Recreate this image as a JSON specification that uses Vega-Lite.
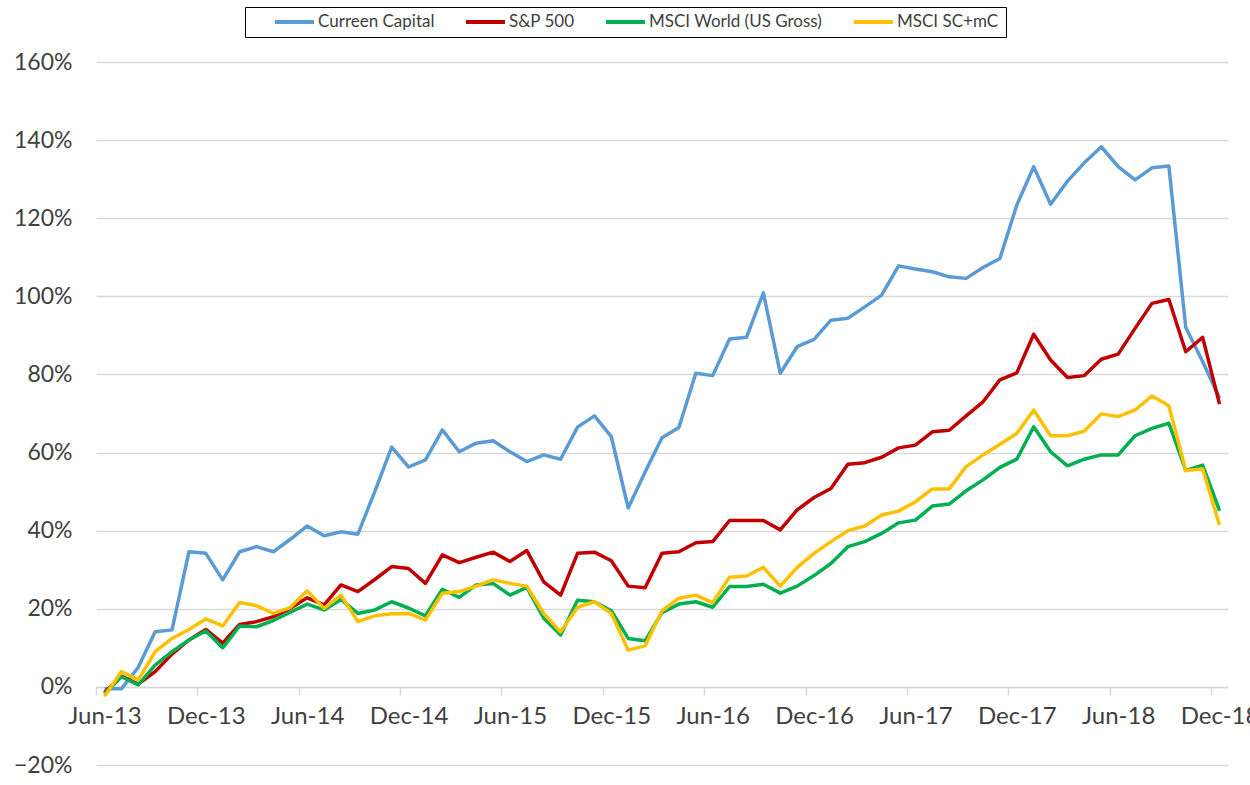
{
  "$schema": "https://vega.github.io/schema/vega-lite/v6.json",
  "width": 1132,
  "height": 703,
  "autosize": {"type": "none"},
  "padding": {"left": 96, "top": 62, "right": 22, "bottom": 20},
  "background": "white",
  "config": {
    "view": {"stroke": null},
    "font": "Lato",
    "axis": {"labelFont": "Lato", "labelColor": "#404040"},
    "legend": {"labelFont": "Lato"}
  },
  "data": {
    "values": [
      {"month": "Jun-13", "Curreen Capital": -0.005, "S&P 500": -0.015, "MSCI World (US Gross)": -0.018, "MSCI SC+mC": -0.024},
      {"month": "Jul-13", "Curreen Capital": -0.005, "S&P 500": 0.028, "MSCI World (US Gross)": 0.026, "MSCI SC+mC": 0.039},
      {"month": "Aug-13", "Curreen Capital": 0.05, "S&P 500": 0.007, "MSCI World (US Gross)": 0.005, "MSCI SC+mC": 0.018},
      {"month": "Sep-13", "Curreen Capital": 0.141, "S&P 500": 0.039, "MSCI World (US Gross)": 0.056, "MSCI SC+mC": 0.09},
      {"month": "Oct-13", "Curreen Capital": 0.146, "S&P 500": 0.084, "MSCI World (US Gross)": 0.09, "MSCI SC+mC": 0.124},
      {"month": "Nov-13", "Curreen Capital": 0.346, "S&P 500": 0.12, "MSCI World (US Gross)": 0.12, "MSCI SC+mC": 0.147},
      {"month": "Dec-13", "Curreen Capital": 0.342, "S&P 500": 0.147, "MSCI World (US Gross)": 0.143, "MSCI SC+mC": 0.174},
      {"month": "Jan-14", "Curreen Capital": 0.274, "S&P 500": 0.112, "MSCI World (US Gross)": 0.1, "MSCI SC+mC": 0.156},
      {"month": "Feb-14", "Curreen Capital": 0.346, "S&P 500": 0.16, "MSCI World (US Gross)": 0.156, "MSCI SC+mC": 0.216},
      {"month": "Mar-14", "Curreen Capital": 0.359, "S&P 500": 0.167, "MSCI World (US Gross)": 0.154, "MSCI SC+mC": 0.208},
      {"month": "Apr-14", "Curreen Capital": 0.346, "S&P 500": 0.18, "MSCI World (US Gross)": 0.17, "MSCI SC+mC": 0.188},
      {"month": "May-14", "Curreen Capital": 0.378, "S&P 500": 0.201, "MSCI World (US Gross)": 0.191, "MSCI SC+mC": 0.203},
      {"month": "Jun-14", "Curreen Capital": 0.412, "S&P 500": 0.228, "MSCI World (US Gross)": 0.212, "MSCI SC+mC": 0.246},
      {"month": "Jul-14", "Curreen Capital": 0.387, "S&P 500": 0.21, "MSCI World (US Gross)": 0.197, "MSCI SC+mC": 0.201},
      {"month": "Aug-14", "Curreen Capital": 0.397, "S&P 500": 0.261, "MSCI World (US Gross)": 0.224, "MSCI SC+mC": 0.235},
      {"month": "Sep-14", "Curreen Capital": 0.391, "S&P 500": 0.244, "MSCI World (US Gross)": 0.188, "MSCI SC+mC": 0.167},
      {"month": "Oct-14", "Curreen Capital": 0.5, "S&P 500": 0.275, "MSCI World (US Gross)": 0.197, "MSCI SC+mC": 0.182},
      {"month": "Nov-14", "Curreen Capital": 0.614, "S&P 500": 0.308, "MSCI World (US Gross)": 0.218, "MSCI SC+mC": 0.187},
      {"month": "Dec-14", "Curreen Capital": 0.563, "S&P 500": 0.303, "MSCI World (US Gross)": 0.202, "MSCI SC+mC": 0.188},
      {"month": "Jan-15", "Curreen Capital": 0.581, "S&P 500": 0.265, "MSCI World (US Gross)": 0.182, "MSCI SC+mC": 0.171},
      {"month": "Feb-15", "Curreen Capital": 0.658, "S&P 500": 0.338, "MSCI World (US Gross)": 0.25, "MSCI SC+mC": 0.24},
      {"month": "Mar-15", "Curreen Capital": 0.602, "S&P 500": 0.318, "MSCI World (US Gross)": 0.229, "MSCI SC+mC": 0.244},
      {"month": "Apr-15", "Curreen Capital": 0.624, "S&P 500": 0.332, "MSCI World (US Gross)": 0.261, "MSCI SC+mC": 0.258},
      {"month": "May-15", "Curreen Capital": 0.63, "S&P 500": 0.345, "MSCI World (US Gross)": 0.265, "MSCI SC+mC": 0.274},
      {"month": "Jun-15", "Curreen Capital": 0.602, "S&P 500": 0.321, "MSCI World (US Gross)": 0.235, "MSCI SC+mC": 0.265},
      {"month": "Jul-15", "Curreen Capital": 0.577, "S&P 500": 0.349, "MSCI World (US Gross)": 0.255, "MSCI SC+mC": 0.258},
      {"month": "Aug-15", "Curreen Capital": 0.594, "S&P 500": 0.269, "MSCI World (US Gross)": 0.176, "MSCI SC+mC": 0.188},
      {"month": "Sep-15", "Curreen Capital": 0.583, "S&P 500": 0.235, "MSCI World (US Gross)": 0.133, "MSCI SC+mC": 0.141},
      {"month": "Oct-15", "Curreen Capital": 0.665, "S&P 500": 0.342, "MSCI World (US Gross)": 0.222, "MSCI SC+mC": 0.204},
      {"month": "Nov-15", "Curreen Capital": 0.694, "S&P 500": 0.345, "MSCI World (US Gross)": 0.218, "MSCI SC+mC": 0.218},
      {"month": "Dec-15", "Curreen Capital": 0.641, "S&P 500": 0.323, "MSCI World (US Gross)": 0.195, "MSCI SC+mC": 0.188},
      {"month": "Jan-16", "Curreen Capital": 0.458, "S&P 500": 0.258, "MSCI World (US Gross)": 0.124, "MSCI SC+mC": 0.094},
      {"month": "Feb-16", "Curreen Capital": 0.55, "S&P 500": 0.254, "MSCI World (US Gross)": 0.118, "MSCI SC+mC": 0.105},
      {"month": "Mar-16", "Curreen Capital": 0.638, "S&P 500": 0.342, "MSCI World (US Gross)": 0.19, "MSCI SC+mC": 0.195},
      {"month": "Apr-16", "Curreen Capital": 0.664, "S&P 500": 0.346, "MSCI World (US Gross)": 0.212, "MSCI SC+mC": 0.227},
      {"month": "May-16", "Curreen Capital": 0.803, "S&P 500": 0.369, "MSCI World (US Gross)": 0.218, "MSCI SC+mC": 0.235},
      {"month": "Jun-16", "Curreen Capital": 0.797, "S&P 500": 0.372, "MSCI World (US Gross)": 0.204, "MSCI SC+mC": 0.216},
      {"month": "Jul-16", "Curreen Capital": 0.891, "S&P 500": 0.426, "MSCI World (US Gross)": 0.257, "MSCI SC+mC": 0.281},
      {"month": "Aug-16", "Curreen Capital": 0.895, "S&P 500": 0.426, "MSCI World (US Gross)": 0.257, "MSCI SC+mC": 0.284},
      {"month": "Sep-16", "Curreen Capital": 1.009, "S&P 500": 0.426, "MSCI World (US Gross)": 0.263, "MSCI SC+mC": 0.306},
      {"month": "Oct-16", "Curreen Capital": 0.803, "S&P 500": 0.402, "MSCI World (US Gross)": 0.24, "MSCI SC+mC": 0.258},
      {"month": "Nov-16", "Curreen Capital": 0.871, "S&P 500": 0.453, "MSCI World (US Gross)": 0.258, "MSCI SC+mC": 0.306},
      {"month": "Dec-16", "Curreen Capital": 0.89, "S&P 500": 0.485, "MSCI World (US Gross)": 0.285, "MSCI SC+mC": 0.342},
      {"month": "Jan-17", "Curreen Capital": 0.939, "S&P 500": 0.508, "MSCI World (US Gross)": 0.316, "MSCI SC+mC": 0.372},
      {"month": "Feb-17", "Curreen Capital": 0.944, "S&P 500": 0.57, "MSCI World (US Gross)": 0.359, "MSCI SC+mC": 0.4},
      {"month": "Mar-17", "Curreen Capital": 0.973, "S&P 500": 0.574, "MSCI World (US Gross)": 0.372, "MSCI SC+mC": 0.412},
      {"month": "Apr-17", "Curreen Capital": 1.003, "S&P 500": 0.588, "MSCI World (US Gross)": 0.393, "MSCI SC+mC": 0.44},
      {"month": "May-17", "Curreen Capital": 1.078, "S&P 500": 0.612, "MSCI World (US Gross)": 0.42, "MSCI SC+mC": 0.45},
      {"month": "Jun-17", "Curreen Capital": 1.07, "S&P 500": 0.619, "MSCI World (US Gross)": 0.427, "MSCI SC+mC": 0.474},
      {"month": "Jul-17", "Curreen Capital": 1.063, "S&P 500": 0.653, "MSCI World (US Gross)": 0.463, "MSCI SC+mC": 0.507},
      {"month": "Aug-17", "Curreen Capital": 1.05, "S&P 500": 0.657, "MSCI World (US Gross)": 0.468, "MSCI SC+mC": 0.507},
      {"month": "Sep-17", "Curreen Capital": 1.046, "S&P 500": 0.694, "MSCI World (US Gross)": 0.502, "MSCI SC+mC": 0.564},
      {"month": "Oct-17", "Curreen Capital": 1.074, "S&P 500": 0.73, "MSCI World (US Gross)": 0.53, "MSCI SC+mC": 0.594},
      {"month": "Nov-17", "Curreen Capital": 1.097, "S&P 500": 0.786, "MSCI World (US Gross)": 0.562, "MSCI SC+mC": 0.621},
      {"month": "Dec-17", "Curreen Capital": 1.234, "S&P 500": 0.804, "MSCI World (US Gross)": 0.583, "MSCI SC+mC": 0.649},
      {"month": "Jan-18", "Curreen Capital": 1.332, "S&P 500": 0.903, "MSCI World (US Gross)": 0.666, "MSCI SC+mC": 0.709},
      {"month": "Feb-18", "Curreen Capital": 1.236, "S&P 500": 0.837, "MSCI World (US Gross)": 0.602, "MSCI SC+mC": 0.643},
      {"month": "Mar-18", "Curreen Capital": 1.295, "S&P 500": 0.792, "MSCI World (US Gross)": 0.566, "MSCI SC+mC": 0.643},
      {"month": "Apr-18", "Curreen Capital": 1.342, "S&P 500": 0.797, "MSCI World (US Gross)": 0.583, "MSCI SC+mC": 0.655},
      {"month": "May-18", "Curreen Capital": 1.383, "S&P 500": 0.839, "MSCI World (US Gross)": 0.594, "MSCI SC+mC": 0.699},
      {"month": "Jun-18", "Curreen Capital": 1.332, "S&P 500": 0.852, "MSCI World (US Gross)": 0.594, "MSCI SC+mC": 0.692},
      {"month": "Jul-18", "Curreen Capital": 1.298, "S&P 500": 0.918, "MSCI World (US Gross)": 0.643, "MSCI SC+mC": 0.709},
      {"month": "Aug-18", "Curreen Capital": 1.329, "S&P 500": 0.982, "MSCI World (US Gross)": 0.662, "MSCI SC+mC": 0.745},
      {"month": "Sep-18", "Curreen Capital": 1.334, "S&P 500": 0.992, "MSCI World (US Gross)": 0.675, "MSCI SC+mC": 0.72},
      {"month": "Oct-18", "Curreen Capital": 0.92, "S&P 500": 0.858, "MSCI World (US Gross)": 0.554, "MSCI SC+mC": 0.554},
      {"month": "Nov-18", "Curreen Capital": 0.833, "S&P 500": 0.895, "MSCI World (US Gross)": 0.568, "MSCI SC+mC": 0.558},
      {"month": "Dec-18", "Curreen Capital": 0.739, "S&P 500": 0.724, "MSCI World (US Gross)": 0.451, "MSCI SC+mC": 0.414}
    ]
  },
  "transform": [
    {"fold": ["Curreen Capital", "S&P 500", "MSCI World (US Gross)", "MSCI SC+mC"], "as": ["series", "value"]}
  ],
  "mark": {"type": "line", "strokeWidth": 3.5, "strokeJoin": "round"},
  "encoding": {
    "x": {
      "field": "month",
      "type": "ordinal",
      "sort": null,
      "scale": {"type": "point", "padding": 0.5},
      "axis": {
        "title": null,
        "values": ["Jun-13", "Dec-13", "Jun-14", "Dec-14", "Jun-15", "Dec-15", "Jun-16", "Dec-16", "Jun-17", "Dec-17", "Jun-18", "Dec-18"],
        "labelAngle": 0,
        "labelFontSize": 24,
        "labelPadding": 9,
        "tickOffset": -8.45,
        "labelOffset": 8.45,
        "tickSize": 8,
        "tickColor": "#D9D9D9",
        "tickWidth": 1.5,
        "domainColor": "#D9D9D9",
        "domainWidth": 1.5,
        "offset": -78,
        "grid": false
      }
    },
    "y": {
      "field": "value",
      "type": "quantitative",
      "scale": {"domain": [-0.2, 1.6], "nice": false, "zero": false},
      "axis": {
        "title": null,
        "values": [-0.2, 0, 0.2, 0.4, 0.6, 0.8, 1.0, 1.2, 1.4, 1.6],
        "format": ".0%",
        "labelFontSize": 23,
        "labelPadding": 24,
        "ticks": false,
        "tickSize": 0,
        "domain": false,
        "grid": true,
        "gridColor": "#D9D9D9",
        "gridWidth": 1.5
      }
    },
    "color": {
      "field": "series",
      "type": "nominal",
      "scale": {
        "domain": ["Curreen Capital", "S&P 500", "MSCI World (US Gross)", "MSCI SC+mC"],
        "range": ["#5B9BD5", "#C00000", "#00B050", "#FFC000"]
      },
      "legend": {
        "orient": "none",
        "legendX": 149,
        "legendY": -55,
        "direction": "horizontal",
        "title": " ",
        "titleOrient": "left",
        "titleFontSize": 1,
        "titlePadding": 21,
        "symbolType": "stroke",
        "symbolSize": 1521,
        "symbolStrokeWidth": 4,
        "clipHeight": 16,
        "labelFontSize": 17,
        "labelLimit": 400,
        "labelColor": "#404040",
        "labelOffset": 2,
        "labelExpr": "datum.label == 'MSCI SC+mC' ? datum.label + '\u00a0\u00a0\u00a0\u00a0\u00a0' : datum.label",
        "columnPadding": 29,
        "padding": 7,
        "strokeColor": "#000000"
      }
    }
  }
}
